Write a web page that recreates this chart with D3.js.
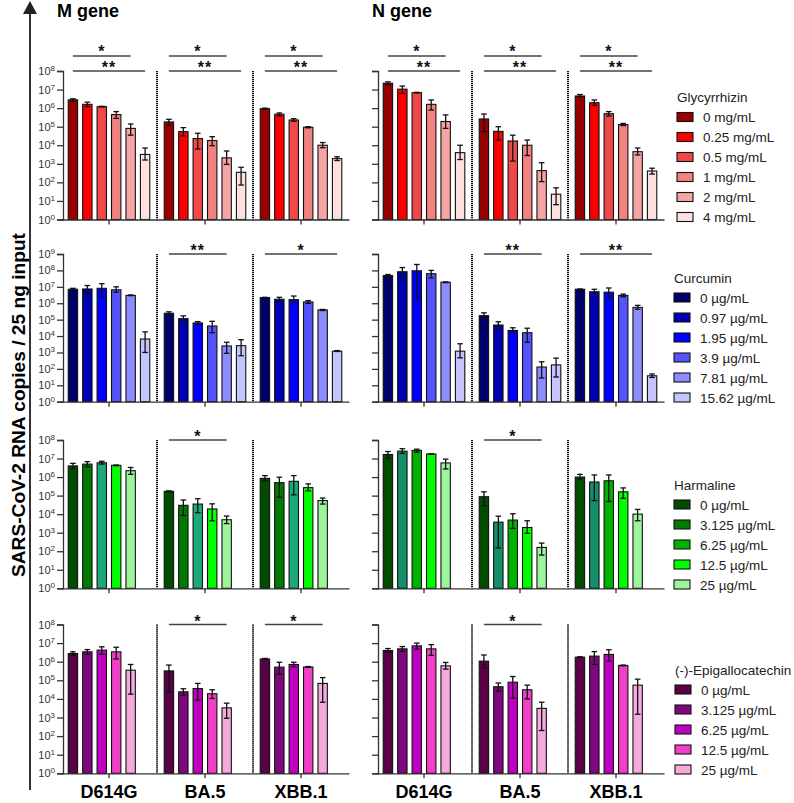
<!DOCTYPE html>
<html lang="en">
<head>
<meta charset="UTF-8"/>
<title>SARS-CoV-2 RNA copies by compound</title>
<script src="https://d3js.org/d3.v7.min.js"></script>
<style>
	body { margin: 0; background: #fff; }
	text { font-family: "Liberation Sans", Arial, sans-serif; }
</style>
</head>
<body>
<script>
var w = 794;
var h = 803;

var variants = ["D614G", "BA.5", "XBB.1"];
var genes = ["M gene", "N gene"];

// each bar: [mean, lower error, upper error] in RNA copies
var glyDoses = ["0 mg/mL", "0.25 mg/mL", "0.5 mg/mL", "1 mg/mL", "2 mg/mL", "4 mg/mL"];
var glyM = [
	[[2.8e6, 2.3e6, 3.2e6], [1.6e6, 1.2e6, 2.1e6], [1.2e6, 1.15e6, 1.26e6], [4.5e5, 2.8e5, 6.5e5], [8.1e4, 3.5e4, 1.4e5], [3.2e3, 1.6e3, 7.1e3]],
	[[1.8e5, 1.2e5, 2.5e5], [5.4e4, 3.2e4, 8.9e4], [2.3e4, 6.3e3, 4.4e4], [1.8e4, 9.5e3, 2.9e4], [2.1e3, 9.3e2, 4.9e3], [3.5e2, 72, 6.5e2]],
	[[9.3e5, 8.7e5, 1.0e6], [4.7e5, 3.8e5, 5.5e5], [2.3e5, 1.95e5, 2.7e5], [9.3e4, 8.7e4, 1.0e5], [1.0e4, 7.4e3, 1.4e4], [1.9e3, 1.5e3, 2.4e3]]
];
var glyN = [
	[[2.2e7, 1.8e7, 2.6e7], [1.05e7, 6.3e6, 1.55e7], [6.8e6, 6.5e6, 7.1e6], [1.6e6, 7.9e5, 2.75e6], [1.9e5, 8.1e4, 4.3e5], [4.0e3, 1.7e3, 1.0e4]],
	[[2.6e5, 5.4e4, 4.8e5], [5.6e4, 1.9e4, 1.0e5], [1.7e4, 1.4e3, 3.5e4], [1.0e4, 2.8e3, 1.9e4], [4.3e2, 1.1e2, 1.15e3], [23, 6.3, 51]],
	[[4.5e6, 4.0e6, 5.4e6], [1.95e6, 1.4e6, 2.75e6], [5.0e5, 3.8e5, 6.5e5], [1.3e5, 1.15e5, 1.5e5], [4.5e3, 3.0e3, 7.1e3], [4.1e2, 2.8e2, 5.8e2]]
];
var glySig = [
	["M gene", "D614G", 0, 4, "*", 1], ["M gene", "D614G", 0, 5, "**", 0],
	["M gene", "BA.5", 0, 4, "*", 1], ["M gene", "BA.5", 0, 5, "**", 0],
	["M gene", "XBB.1", 0, 4, "*", 1], ["M gene", "XBB.1", 0, 5, "**", 0],
	["N gene", "D614G", 0, 4, "*", 1], ["N gene", "D614G", 0, 5, "**", 0],
	["N gene", "BA.5", 0, 4, "*", 1], ["N gene", "BA.5", 0, 5, "**", 0],
	["N gene", "XBB.1", 0, 4, "*", 1], ["N gene", "XBB.1", 0, 5, "**", 0]
];

var curDoses = ["0 µg/mL", "0.97 µg/mL", "1.95 µg/mL", "3.9 µg/mL", "7.81 µg/mL", "15.62 µg/mL"];
var curM = [
	[[7.1e6, 6.2e6, 8.1e6], [7.4e6, 4.2e6, 1.2e7], [8.1e6, 2.4e6, 1.55e7], [6.6e6, 4.7e6, 1.0e7], [3.0e6, 2.9e6, 3.2e6], [6.6e3, 1.0e3, 1.8e4]],
	[[2.45e5, 1.95e5, 3.0e5], [1.15e5, 7.4e4, 1.7e5], [6.3e4, 5.4e4, 7.6e4], [4.1e4, 1.6e4, 7.9e4], [2.5e3, 8.9e2, 4.2e3], [2.6e3, 6.3e2, 6.0e3]],
	[[2.2e6, 2.1e6, 2.3e6], [1.75e6, 1.25e6, 2.3e6], [1.65e6, 9.3e5, 2.75e6], [1.2e6, 9.8e5, 1.45e6], [3.9e5, 3.6e5, 4.2e5], [1.2e3, 1.15e3, 1.3e3]]
];
var curN = [
	[[4.8e7, 4.1e7, 5.6e7], [8.3e7, 4.2e7, 1.5e8], [9.5e7, 1.75e6, 2.3e8], [6.3e7, 3.5e7, 1.0e8], [1.9e7, 1.8e7, 2.0e7], [1.2e3, 4.7e2, 3.4e3]],
	[[1.75e5, 1.1e5, 2.6e5], [4.7e4, 3.0e4, 7.4e4], [2.2e4, 1.55e4, 3.2e4], [1.6e4, 4.2e3, 3.0e4], [1.3e2, 28, 2.7e2], [1.75e2, 32, 4.5e2]],
	[[7.1e6, 6.6e6, 7.4e6], [5.0e6, 3.5e6, 7.1e6], [4.7e6, 2.0e6, 8.5e6], [3.0e6, 2.5e6, 3.6e6], [5.6e5, 4.3e5, 7.4e5], [38, 30, 49]]
];
var curSig = [
	["M gene", "BA.5", 0, 4, "**", 0], ["M gene", "XBB.1", 0, 5, "*", 0],
	["N gene", "BA.5", 0, 4, "**", 0], ["N gene", "XBB.1", 0, 5, "**", 0]
];

var harDoses = ["0 µg/mL", "3.125 µg/mL", "6.25 µg/mL", "12.5 µg/mL", "25 µg/mL"];
var harM = [
	[[4.0e6, 2.9e6, 5.5e6], [5.0e6, 3.6e6, 6.8e6], [5.9e6, 5.0e6, 7.1e6], [4.3e6, 4.1e6, 4.5e6], [2.2e6, 1.4e6, 3.3e6]],
	[[1.7e5, 1.6e5, 1.8e5], [3.0e4, 8.5e3, 5.8e4], [3.5e4, 1.2e4, 6.8e4], [1.9e4, 4.4e3, 3.6e4], [5.0e3, 3.1e3, 7.9e3]],
	[[8.5e5, 6.3e5, 1.2e6], [5.0e5, 8.1e4, 9.8e5], [5.9e5, 1.1e5, 1.2e6], [2.7e5, 1.8e5, 4.3e5], [5.4e4, 3.5e4, 7.4e4]]
];
var harN = [
	[[1.65e7, 1.05e7, 2.4e7], [2.5e7, 1.9e7, 3.4e7], [2.75e7, 2.2e7, 3.2e7], [1.75e7, 1.7e7, 1.8e7], [5.8e6, 2.75e6, 9.3e6]],
	[[8.7e4, 2.8e4, 1.6e5], [3.7e3, 1.5e2, 7.8e3], [4.8e3, 1.7e3, 1.05e4], [1.9e3, 9.3e2, 4.4e3], [1.6e2, 62, 2.75e2]],
	[[1.0e6, 7.8e5, 1.4e6], [5.4e5, 5.4e4, 1.3e6], [6.3e5, 4.8e4, 1.3e6], [1.6e5, 7.2e4, 2.6e5], [1.0e4, 4.4e3, 1.8e4]]
];
var harSig = [
	["M gene", "BA.5", 0, 4, "*", 0], ["N gene", "BA.5", 0, 4, "*", 0]
];

var egcDoses = ["0 µg/mL", "3.125 µg/mL", "6.25 µg/mL", "12.5 µg/mL", "25 µg/mL"];
var egcM = [
	[[2.75e6, 2.2e6, 3.4e6], [3.4e6, 2.5e6, 4.5e6], [4.2e6, 2.5e6, 6.3e6], [3.4e6, 1.4e6, 6.0e6], [3.5e5, 1.8e4, 7.1e5]],
	[[3.2e5, 2.3e4, 6.6e5], [2.4e4, 1.6e4, 3.5e4], [3.6e4, 8.7e3, 6.8e4], [1.9e4, 1.05e4, 3.1e4], [3.3e3, 9.1e2, 5.9e3]],
	[[1.4e6, 1.3e6, 1.5e6], [5.1e5, 2.1e5, 9.3e5], [7.1e5, 5.4e5, 9.3e5], [5.2e5, 5.0e5, 5.5e5], [6.8e4, 6.6e3, 1.4e5]]
];
var egcN = [
	[[4.0e6, 3.2e6, 5.1e6], [4.9e6, 3.6e6, 6.5e6], [7.1e6, 4.7e6, 1.0e7], [4.9e6, 2.2e6, 8.3e6], [6.0e5, 4.0e5, 9.1e5]],
	[[1.07e6, 4.7e5, 2.3e6], [4.5e4, 2.6e4, 7.2e4], [7.9e4, 1.1e4, 1.6e5], [3.1e4, 1.0e4, 5.5e4], [3.1e3, 2.0e2, 6.6e3]],
	[[1.75e6, 1.65e6, 1.85e6], [2.0e6, 7.1e5, 3.5e6], [2.45e6, 1.07e6, 4.4e6], [6.3e5, 6.0e5, 6.6e5], [5.5e4, 1.5e3, 1.15e5]]
];
var egcSig = [
	["M gene", "BA.5", 0, 4, "*", 0], ["M gene", "XBB.1", 0, 4, "*", 0],
	["N gene", "BA.5", 0, 4, "*", 0]
];

// colours (harmaline swaps the teal shade between the genes in the original)
var glyColors = ["#990000", "#ff0000", "#f24848", "#f28282", "#f5a5a5", "#fde1e1"];
var curColors = ["#00006b", "#0000b3", "#0000ff", "#5454ff", "#8c8cff", "#c4c4ff"];
var harColorsM = ["#004d00", "#007a00", "#1cab78", "#00ff00", "#9cf59c"];
var harColorsN = ["#004d00", "#148f69", "#00b300", "#00ff00", "#9cf59c"];
var harLegend = ["#004d00", "#007a00", "#00b300", "#00ff00", "#9cf59c"];
var egcColors = ["#5a0046", "#7d097d", "#c000c0", "#f040c8", "#f5aadc"];

var rows = [
	{ name: "Glycyrrhizin", doses: glyDoses, data: [glyM, glyN], sig: glySig, colors: [glyColors, glyColors], legend: glyColors, top: 71, bottom: 219.5, maxExp: 8, legX: 677, legY: 97 },
	{ name: "Curcumin", doses: curDoses, data: [curM, curN], sig: curSig, colors: [curColors, curColors], legend: curColors, top: 254, bottom: 401.7, maxExp: 9, legX: 674, legY: 277.5 },
	{ name: "Harmaline", doses: harDoses, data: [harM, harN], sig: harSig, colors: [harColorsM, harColorsN], legend: harLegend, top: 440, bottom: 588.3, maxExp: 8, legX: 674, legY: 484.5 },
	{ name: "(-)-Epigallocatechin", doses: egcDoses, data: [egcM, egcN], sig: egcSig, colors: [egcColors, egcColors], legend: egcColors, top: 624.5, bottom: 773.3, maxExp: 8, legX: 675, legY: 669.5 }
];

var panelX = [63, 378];

var svg = d3.select("body")
	.append("svg")
	.attr("width", w)
	.attr("height", h);

// big arrow on the left
svg.append("line")
	.attr("x1", 30).attr("x2", 30)
	.attr("y1", 12).attr("y2", 790)
	.attr("stroke", "#333")
	.attr("stroke-width", 2);
svg.append("path")
	.attr("d", "M23,14 L37,14 L30,1 Z")
	.attr("fill", "#222");

svg.append("text")
	.attr("transform", "translate(25,405) rotate(-90)")
	.attr("text-anchor", "middle")
	.attr("font-size", "18px")
	.attr("font-weight", "bold")
	.attr("textLength", 344)
	.attr("lengthAdjust", "spacingAndGlyphs")
	.text("SARS-CoV-2 RNA copies / 25 ng input");

genes.forEach(function (g, gi) {
	svg.append("text")
		.attr("x", panelX[gi] - 6)
		.attr("y", 17)
		.attr("font-size", "18px")
		.attr("font-weight", "bold")
		.text(g);
});

rows.forEach(function (row, ri) {
	genes.forEach(function (gene, gi) {
		var ox = panelX[gi];
		var g = svg.append("g");

		var yScale = d3.scaleLog()
			.domain([1, Math.pow(10, row.maxExp)])
			.range([row.bottom, row.top]);

		var x0 = d3.scaleBand()
			.domain(variants)
			.range([ox - 2, ox + 286]);

		var x1 = d3.scaleBand()
			.domain(d3.range(6))
			.range([0, x0.bandwidth()])
			.paddingInner(0.35)
			.paddingOuter(0.5);

		var bw = x1.bandwidth();

		// dotted separators between variants
		variants.slice(1).forEach(function (v) {
			g.append("line")
				.attr("x1", x0(v)).attr("x2", x0(v))
				.attr("y1", row.top).attr("y2", row.bottom)
				.attr("stroke", "#111")
				.attr("stroke-width", 2)
				.attr("stroke-dasharray", "1.2,0.8");
		});

		variants.forEach(function (v, vi) {
			var bars = row.data[gi][vi];
			var cols = row.colors[gi];

			g.selectAll(null)
				.data(bars)
				.enter()
				.append("rect")
				.attr("x", function (d, i) { return x0(v) + x1(i); })
				.attr("y", function (d) { return yScale(d[0]); })
				.attr("width", bw)
				.attr("height", function (d) { return row.bottom - yScale(d[0]); })
				.attr("fill", function (d, i) { return cols[i]; })
				.attr("stroke", "#111")
				.attr("stroke-width", 1.1);

			var err = g.selectAll(null)
				.data(bars)
				.enter()
				.append("g")
				.attr("transform", function (d, i) { return "translate(" + (x0(v) + x1(i) + bw / 2) + ",0)"; });
			err.append("line")
				.attr("y1", function (d) { return yScale(d[1]); })
				.attr("y2", function (d) { return yScale(d[2]); })
				.attr("stroke", "#111").attr("stroke-width", 1.3);
			err.append("line")
				.attr("x1", -2.8).attr("x2", 2.8)
				.attr("y1", function (d) { return yScale(d[1]); })
				.attr("y2", function (d) { return yScale(d[1]); })
				.attr("stroke", "#111").attr("stroke-width", 1.3);
			err.append("line")
				.attr("x1", -2.8).attr("x2", 2.8)
				.attr("y1", function (d) { return yScale(d[2]); })
				.attr("y2", function (d) { return yScale(d[2]); })
				.attr("stroke", "#111").attr("stroke-width", 1.3);
		});

		// significance brackets
		row.sig.filter(function (s) { return s[0] === gene; }).forEach(function (s) {
			var xa = x0(s[1]) + x1(s[2]) + bw / 2;
			var xb = x0(s[1]) + x1(s[3]) + bw / 2;
			var ly = row.top - s[5] * 15;
			g.append("line")
				.attr("x1", xa).attr("x2", xb)
				.attr("y1", ly).attr("y2", ly)
				.attr("stroke", "#444")
				.attr("stroke-width", 1.5);
			g.append("text")
				.attr("x", (xa + xb) / 2)
				.attr("y", ly + (s[5] ? 1 : 2))
				.attr("text-anchor", "middle")
				.attr("font-size", "16px")
				.attr("font-weight", "bold")
				.attr("letter-spacing", "1px")
				.attr("fill", "#111")
				.text(s[4]);
		});

		// y axis
		var ticks = d3.range(0, row.maxExp + 1).map(function (e) { return Math.pow(10, e); });
		var yAxis = d3.axisLeft(yScale)
			.tickValues(ticks)
			.tickSize(6)
			.tickFormat("");
		var ya = g.append("g")
			.attr("transform", "translate(" + ox + ",0)")
			.call(yAxis);
		ya.selectAll("path, line").attr("stroke", "#333").attr("stroke-width", 1.3);

		if (gi === 0) {
			var lab = g.selectAll(null)
				.data(ticks)
				.enter()
				.append("text")
				.attr("x", ox - 8)
				.attr("y", function (d) { return yScale(d) + 4; })
				.attr("text-anchor", "end")
				.attr("font-size", "11px")
				.attr("fill", "#333");
			lab.append("tspan").text("10");
			lab.append("tspan")
				.attr("dy", -4)
				.attr("font-size", "8px")
				.text(function (d, i) { return i; });
		}

		// x axis
		var xAxis = d3.axisBottom(x0)
			.tickSize(5)
			.tickSizeOuter(0)
			.tickFormat("");
		var xa = g.append("g")
			.attr("transform", "translate(0," + row.bottom + ")")
			.call(xAxis);
		xa.selectAll("path, line").attr("stroke", "#333").attr("stroke-width", 1.3);

		if (ri === rows.length - 1) {
			g.selectAll(null)
				.data(variants)
				.enter()
				.append("text")
				.attr("x", function (d) { return x0(d) + x0.bandwidth() / 2; })
				.attr("y", 798)
				.attr("text-anchor", "middle")
				.attr("font-size", "18px")
				.attr("font-weight", "bold")
				.text(function (d) { return d; });
		}
	});

	// legend
	var leg = svg.append("g");
	leg.append("text")
		.attr("x", row.legX)
		.attr("y", row.legY + 5)
		.attr("font-size", "13.5px")
		.attr("fill", "#222")
		.text(row.name);
	var item = leg.selectAll(null)
		.data(row.doses)
		.enter()
		.append("g")
		.attr("transform", function (d, i) { return "translate(" + row.legX + "," + (row.legY + 20 * (i + 1)) + ")"; });
	item.append("rect")
		.attr("x", 0).attr("y", -4.5)
		.attr("width", 16).attr("height", 9)
		.attr("fill", function (d, i) { return row.legend[i]; })
		.attr("stroke", "#111")
		.attr("stroke-width", 1.1);
	item.append("text")
		.attr("x", 26)
		.attr("y", 5)
		.attr("font-size", "13.5px")
		.attr("fill", "#222")
		.text(function (d) { return d; });
});
</script>
</body>
</html>
